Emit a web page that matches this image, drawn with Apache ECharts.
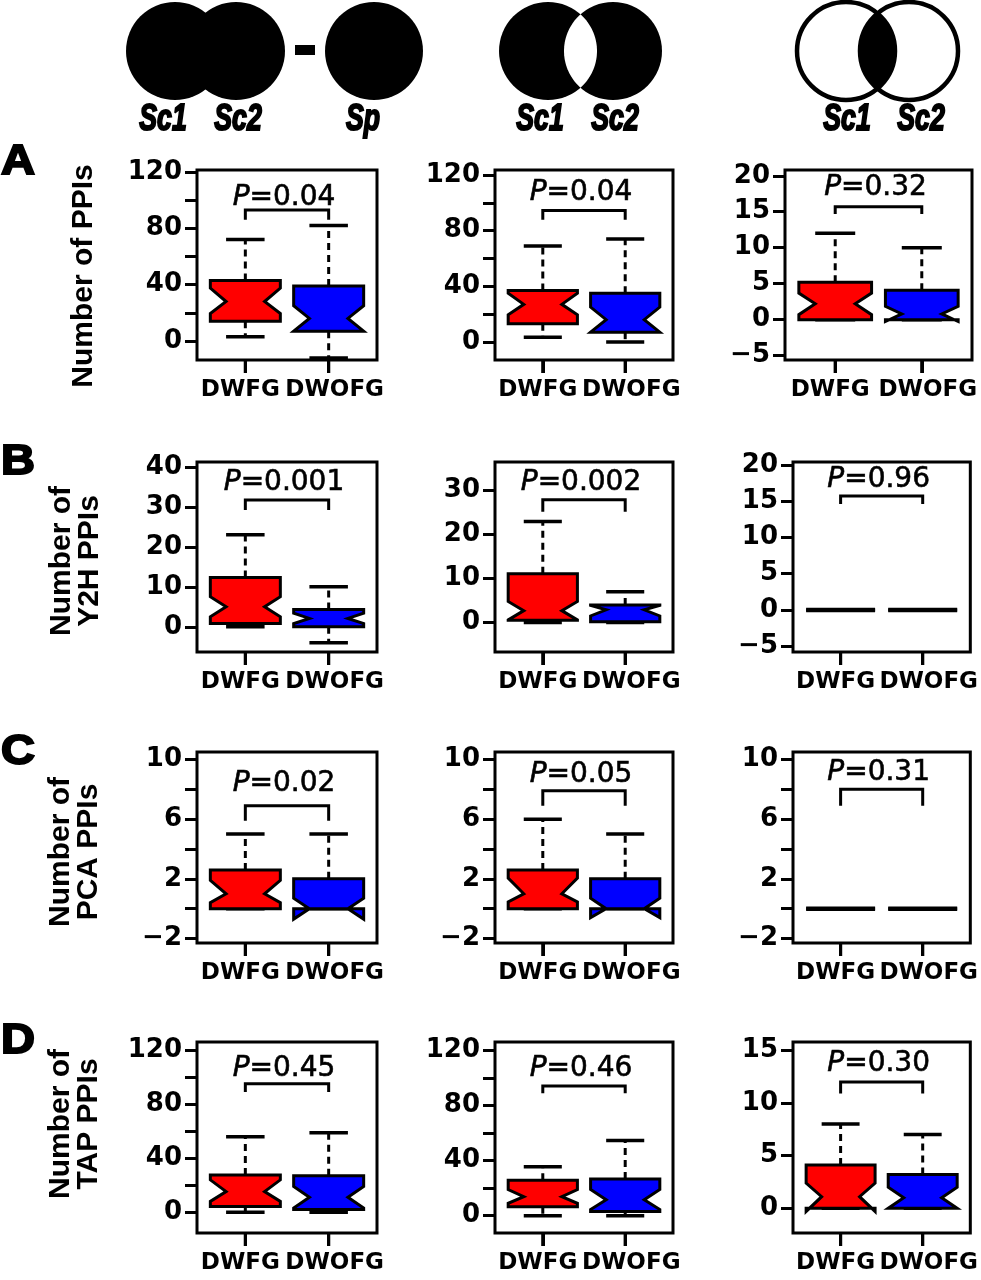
<!DOCTYPE html>
<html><head><meta charset="utf-8">
<script src="https://cdn.jsdelivr.net/npm/echarts@6/dist/echarts.min.js"></script>
<style>html,body{margin:0;padding:0;background:#fff}#c{width:981px;height:1280px}</style>
</head><body><div id="c"></div>
<script>
// ---------------- data ----------------
const groups = ['DWFG', 'DWOFG'];
const rowLetters = ['A', 'B', 'C', 'D'];
const rowTitles = ['Number of PPIs', 'Number of\nY2H PPIs', 'Number of\nPCA PPIs', 'Number of\nTAP PPIs'];
// per panel (A1,A2,A3,B1,...,D3): [lowWhisker, q1, median, q3, highWhisker, notchLow, notchHigh]
const dwfgStats = [
  [3, 14, 28, 43, 72, 19.5, 37.5], [3.4, 13, 27, 37, 69, 19.5, 35], [0, 0, 2.2, 5.2, 12, 0.7, 3.7],
  [0, 0.8, 5, 12.3, 23, 2.5, 7.5], [0, 0.5, 2.7, 11.1, 23, 0.6, 4.8], [0, 0, 0, 0, 0, 0, 0],
  [0, 0, 1, 2.6, 5, 0.4, 1.9], [0, 0, 1, 2.6, 6, 0.45, 2.05], [0, 0, 0, 0, 0, 0, 0],
  [0, 4.2, 15.3, 27.6, 56, 8, 24], [0, 6.5, 13.8, 25.8, 35.5, 9, 19], [0, 0, 1.1, 4.1, 8, -0.3, 2.4]
];
const dwofgStats = [
  [-12, 7, 16, 39, 82, 7, 25], [0, 7, 16, 35, 74, 7, 25], [0, 0, 0.8, 4.1, 10, -0.25, 1.85],
  [-4, 0, 2.1, 4.3, 10, 0.8, 3.4], [0, 0.2, 2.9, 4, 7, 1.5, 3.9], [0, 0, 0, 0, 0, 0, 0],
  [0, 0, 0, 2, 5, -0.7, 0.7], [0, 0, 0, 2, 5, -0.6, 0.7], [0, 0, 0, 0, 0, 0, 0],
  [0, 2, 11, 27, 59, 3, 19], [0, 3.1, 11.6, 26.6, 54.6, 4.5, 19], [0, 0, 1, 3.2, 7, 0, 2]
];
const pValues = ['0.04', '0.04', '0.32', '0.001', '0.002', '0.96', '0.02', '0.05', '0.31', '0.45', '0.46', '0.30'];
const bracketTop = [93, 94.5, 15.7, 31.7, 27.9, 15.7, 6.9, 7.9, 8.0, 95.4, 94.3, 12];
const bracketFoot = [86, 87.8, 14.7, 29.2, 25.2, 14.6, 5.9, 6.9, 6.9, 89.2, 89, 10.9];
const pLabelY = [101.6, 107, 18.3, 35.9, 31.8, 17.9, 8.4, 9.0, 9.1, 106.5, 106.7, 13.7];
const yMin = [-13.5, -13, -5.6, -6.3, -6.7, -5.8, -2.3, -2.3, -2.3, -15.5, -12.6, -2.35];
const yMax = [121.4, 123.6, 20.8, 41.2, 36.5, 20.4, 10.5, 10.5, 10.5, 126.4, 126.3, 15.8];
const ticks120 = [0, 20, 40, 60, 80, 100, 120];
const labels120 = [0, 40, 80, 120];
const ticks20 = [-5, 0, 5, 10, 15, 20];
const ticks10 = [-2, 0, 2, 4, 6, 8, 10];
const labels10 = [-2, 2, 6, 10];
const yTicks = [ticks120, ticks120, ticks20, [0, 10, 20, 30, 40], [0, 10, 20, 30], ticks20,
  ticks10, ticks10, ticks10, ticks120, ticks120, [0, 5, 10, 15]];
const yTickLabels = [labels120, labels120, ticks20, [0, 10, 20, 30, 40], [0, 10, 20, 30], ticks20,
  labels10, labels10, labels10, labels120, labels120, [0, 5, 10, 15]];
const xTicks = [1, 2];
const vennLabels = [['Sc1', 'Sc2', 'Sp'], ['Sc1', 'Sc2'], ['Sc1', 'Sc2']];

// ---------------- layout / style ----------------
const boxColors = ['#ff0000', '#0000ff'];
const colLeft = [197, 495, 793], colW = [180, 178, 180];
const rowTop = [170, 462, 752, 1042], rowH = [190, 190, 191, 191];
const BOX_HALF = 0.42, NOTCH = 0.55, STAPLE = 0.55, XTICK_LEN = 13;
const FONT = 'DejaVu Sans';

const chart = echarts.init(document.getElementById('c'));
const grid = [], xAxis = [], yAxis = [], series = [];
const fmtNum = v => (v < 0 ? '\u2212' + Math.abs(v) : String(v));

function makeRenderBox(panel) {
  return function (params, api) {
    const x = api.value(0);
    const lo = api.value(1), q1 = api.value(2), med = api.value(3), q3 = api.value(4),
          hi = api.value(5), nlo = api.value(6), nhi = api.value(7);
    const w = api.size([BOX_HALF, 0])[0];
    const cx = api.coord([x, med])[0];
    const Y = v => api.coord([x, v])[1];
    const L = cx - w, R = cx + w, Li = cx - w * NOTCH, Ri = cx + w * NOTCH;
    const fill = boxColors[x - 1];
    const black = '#000';
    const ch = [];
    // category tick under the frame
    const yb = Y(yMin[panel]);
    ch.push({ type: 'rect', shape: { x: cx - 1.6, y: yb, width: 3.2, height: XTICK_LEN }, style: { fill: black } });
    if (hi > q3) ch.push({ type: 'line', shape: { x1: cx, y1: Y(q3), x2: cx, y2: Y(hi) },
      style: { stroke: black, lineWidth: 3, lineDash: [7, 5] } });
    if (lo < q1) ch.push({ type: 'line', shape: { x1: cx, y1: Y(q1), x2: cx, y2: Y(lo) },
      style: { stroke: black, lineWidth: 3, lineDash: [7, 5] } });
    ch.push({ type: 'line', shape: { x1: cx - w * STAPLE, y1: Y(hi), x2: cx + w * STAPLE, y2: Y(hi) },
      style: { stroke: black, lineWidth: 3.5 } });
    ch.push({ type: 'line', shape: { x1: cx - w * STAPLE, y1: Y(lo), x2: cx + w * STAPLE, y2: Y(lo) },
      style: { stroke: black, lineWidth: 3.5 } });
    const pts = [[L, Y(q1)], [L, Y(nlo)], [Li, Y(med)], [L, Y(nhi)], [L, Y(q3)],
                 [R, Y(q3)], [R, Y(nhi)], [Ri, Y(med)], [R, Y(nlo)], [R, Y(q1)]];
    ch.push({ type: 'polygon', shape: { points: pts },
      style: { fill: fill, stroke: black, lineWidth: 3, lineJoin: 'miter' } });
    if (q3 === q1) {
      ch.push({ type: 'line', shape: { x1: L, y1: Y(med), x2: R, y2: Y(med) },
        style: { stroke: black, lineWidth: 4.5 } });
    }
    return { type: 'group', children: ch };
  };
}

function makeRenderBracket(panel) {
  return function (params, api) {
    const x1 = api.value(0), x2 = api.value(1), top = api.value(2), foot = api.value(3), ly = api.value(4);
    const p1 = api.coord([x1, top]), p2 = api.coord([x2, top]);
    const f1 = api.coord([x1, foot]), f2 = api.coord([x2, foot]);
    const lp = api.coord([(x1 + x2) / 2, ly]);
    return { type: 'group', children: [
      { type: 'polyline', shape: { points: [f1, p1, p2, f2] },
        style: { stroke: '#000', lineWidth: 3, fill: null } },
      { type: 'text', x: lp[0] - 3, y: lp[1],
        style: { text: '{i|P}=' + pValues[panel], fill: '#000', fontFamily: FONT, fontSize: 28,
          stroke: '#000', lineWidth: 0.6,
          align: 'center', verticalAlign: 'middle',
          rich: { i: { fontStyle: 'italic', fontFamily: FONT, fontSize: 28, fill: '#000', stroke: '#000', lineWidth: 0.6 } } } }
    ] };
  };
}

for (let i = 0; i < 12; i++) {
  const r = Math.floor(i / 3), c = i % 3;
  let left = colLeft[c], width = colW[c];
  if (i === 2) { left = 785; width = 187; }
  grid.push({ left: left, top: rowTop[r], width: width, height: rowH[r], show: true,
    borderColor: '#000', borderWidth: 3, backgroundColor: 'transparent', containLabel: false });
  xAxis.push({ type: 'value', gridIndex: i, min: 0.42, max: 2.58, position: 'bottom',
    axisLine: { show: false, onZero: false }, splitLine: { show: false },
    axisTick: { show: true, inside: false, length: XTICK_LEN, lineStyle: { color: '#000', width: 3 }, customValues: xTicks },
    axisLabel: { show: true, customValues: xTicks, margin: 19, color: '#000', fontFamily: FONT,
      fontWeight: 'bold', fontSize: 23, hideOverlap: false,
      formatter: v => (Math.round(v) === 1 ? '{a|' + groups[0] + '}' : '{b|' + groups[1] + '}'),
      rich: { a: { fontFamily: FONT, fontWeight: 'bold', fontSize: 23, color: '#000', padding: [0, 10, 0, 0] },
              b: { fontFamily: FONT, fontWeight: 'bold', fontSize: 23, color: '#000', padding: [0, 0, 0, 12] } } } });
  yAxis.push({ type: 'value', gridIndex: i, min: yMin[i], max: yMax[i],
    axisLine: { show: false, onZero: false }, splitLine: { show: false },
    axisTick: { show: true, length: 12, lineStyle: { color: '#000', width: 3 }, customValues: yTicks[i] },
    axisLabel: { show: true, customValues: yTickLabels[i], margin: 15, color: '#000', fontFamily: FONT,
      fontWeight: 'bold', fontSize: 26, formatter: v => fmtNum(v) } });
  series.push({ type: 'custom', xAxisIndex: i, yAxisIndex: i, renderItem: makeRenderBox(i), clip: false,
    encode: { x: 0, y: [1, 2, 3, 4, 5] },
    data: [[1].concat(dwfgStats[i]), [2].concat(dwofgStats[i])], silent: true });
  series.push({ type: 'custom', xAxisIndex: i, yAxisIndex: i, renderItem: makeRenderBracket(i), clip: false,
    encode: { x: [0, 1], y: [2, 3] },
    data: [[1, 2, bracketTop[i], bracketFoot[i], pLabelY[i]]], silent: true });
}

// ---------------- decorations (row letters, titles, Venn icons) ----------------
const graphic = [];
const letterPos = [[18, 162], [18, 462], [18, 752], [18, 1041]];
const titlePos = [[84, 276], [76, 561], [75, 852], [75, 1124]];
for (let r = 0; r < 4; r++) {
  graphic.push({ type: 'text', x: letterPos[r][0], y: letterPos[r][1], scaleX: 1.12,
    style: { text: rowLetters[r], fontWeight: 'bold', fontSize: 42, fontFamily: 'Liberation Sans',
      fill: '#000', stroke: '#000', lineWidth: 2,
      align: 'center', verticalAlign: 'middle', textAlign: 'center', textVerticalAlign: 'middle' } });
  graphic.push({ type: 'text', x: titlePos[r][0], y: titlePos[r][1], rotation: Math.PI / 2,
    style: { text: rowTitles[r], fontWeight: 'bold', fontSize: 30, fontFamily: 'Liberation Sans',
      fill: '#000', lineHeight: 28,
      align: 'center', verticalAlign: 'middle', textAlign: 'center', textVerticalAlign: 'middle' } });
}
function lensPoints(c1, c2, cy, rad) {
  const half = (c2 - c1) / 2, h = Math.sqrt(rad * rad - half * half);
  const th = Math.atan2(h, half), n = 40, pts = [];
  for (let k = 0; k <= n; k++) { const a = -th + 2 * th * k / n; pts.push([c1 + rad * Math.cos(a), cy + rad * Math.sin(a)]); }
  for (let k = 0; k <= n; k++) { const a = Math.PI - th + 2 * th * k / n; pts.push([c2 + rad * Math.cos(a), cy + rad * Math.sin(a)]); }
  return pts;
}
const RAD = 49, CY = 51;
// group 1: Sc1 ∪ Sc2 − Sp
graphic.push({ type: 'circle', shape: { cx: 175, cy: CY, r: RAD }, style: { fill: '#000' } });
graphic.push({ type: 'circle', shape: { cx: 236, cy: CY, r: RAD }, style: { fill: '#000' } });
graphic.push({ type: 'rect', shape: { x: 295, y: 45, width: 20, height: 10 }, style: { fill: '#000' } });
graphic.push({ type: 'circle', shape: { cx: 374, cy: CY, r: RAD }, style: { fill: '#000' } });
// group 2: symmetric difference
graphic.push({ type: 'circle', shape: { cx: 548, cy: CY, r: RAD }, style: { fill: '#000' } });
graphic.push({ type: 'circle', shape: { cx: 613, cy: CY, r: RAD }, style: { fill: '#000' } });
graphic.push({ type: 'polygon', shape: { points: lensPoints(548, 613, CY, RAD) }, style: { fill: '#fff' } });
// group 3: intersection
graphic.push({ type: 'polygon', shape: { points: lensPoints(846, 909, CY, RAD) }, style: { fill: '#000' } });
graphic.push({ type: 'circle', shape: { cx: 846, cy: CY, r: RAD }, style: { fill: 'none', stroke: '#000', lineWidth: 4.5 } });
graphic.push({ type: 'circle', shape: { cx: 909, cy: CY, r: RAD }, style: { fill: 'none', stroke: '#000', lineWidth: 4.5 } });
const vennLabelX = [[163, 238, 363], [540, 615], [847, 921]];
for (let g = 0; g < 3; g++) {
  for (let k = 0; k < vennLabels[g].length; k++) {
    graphic.push({ type: 'text', x: vennLabelX[g][k], y: 120, scaleX: 0.74,
      style: { text: vennLabels[g][k], fontStyle: 'italic', fontWeight: 'bold', fontSize: 36,
        fontFamily: 'Liberation Sans', fill: '#000', stroke: '#000', lineWidth: 2,
        align: 'center', verticalAlign: 'middle', textAlign: 'center', textVerticalAlign: 'middle' } });
  }
}

chart.setOption({ animation: false, backgroundColor: '#fff', grid, xAxis, yAxis, series, graphic });
</script></body></html>
